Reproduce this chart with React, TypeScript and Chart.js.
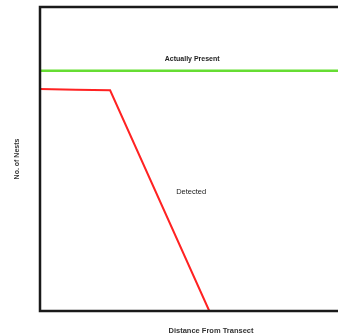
import React, { useEffect, useRef } from "react";
import { Chart, registerables } from "chart.js";

Chart.register(...registerables);

// Data
const distance: number[] = [0, 1.05, 2.05, 4.95];
const detected: number[] = [73.0, 72.8, 72.6, 0];
const presentX: number[] = [0, 10];
const present: number[] = [79, 79];

const seriesLabels: string[] = ["Actually Present", "Detected"];
const labelX: number[] = [4.45, 4.42];
const labelY: number[] = [82.9, 39.2];
const labelBold: boolean[] = [true, false];

const xTitle = "Distance From Transect";
const yTitle = "No. of Nests";

const FONT = "'Liberation Sans', Arial, sans-serif";

const framePlugin = {
  id: "frame",
  afterDatasetsDraw(chart: any) {
    const { ctx, chartArea } = chart;
    ctx.save();
    ctx.strokeStyle = "#1a1a1a";
    ctx.lineWidth = 2.5;
    ctx.strokeRect(chartArea.left, chartArea.top, chartArea.right - chartArea.left, chartArea.bottom - chartArea.top);
    const xs = chart.scales.x;
    const ys = chart.scales.y;
    ctx.fillStyle = "#222";
    ctx.textAlign = "center";
    ctx.textBaseline = "middle";
    seriesLabels.forEach((t, i) => {
      ctx.font = `${labelBold[i] ? "bold 7px" : "7.5px"} ${FONT}`;
      ctx.fillText(t, xs.getPixelForValue(labelX[i]), ys.getPixelForValue(labelY[i]));
    });
    ctx.restore();
  },
};

export default function App() {
  const ref = useRef<HTMLCanvasElement | null>(null);
  useEffect(() => {
    if (!ref.current) return;
    const chart = new Chart(ref.current, {
      type: "line",
      data: {
        datasets: [
          {
            label: seriesLabels[0],
            data: presentX.map((x, i) => ({ x, y: present[i] })),
            borderColor: "#66dd33",
            borderWidth: 2.5,
            pointRadius: 0,
            tension: 0,
          },
          {
            label: seriesLabels[1],
            data: distance.map((x, i) => ({ x, y: detected[i] })),
            borderColor: "#ff2222",
            borderWidth: 2,
            pointRadius: 0,
            tension: 0,
          },
        ],
      },
      options: {
        responsive: false,
        animation: false,
        layout: { padding: { top: 7, right: 0, left: 0, bottom: 0 } },
        plugins: { legend: { display: false }, tooltip: { enabled: false } },
        scales: {
          x: {
            type: "linear",
            min: 0,
            max: 10,
            grid: { display: false, drawTicks: false },
            border: { display: false },
            ticks: { display: false },
            title: {
              display: true,
              text: xTitle,
              color: "#333",
              font: { family: FONT, size: 7.5, weight: "bold" },
              padding: { top: 0, bottom: 0 },
            },
            afterFit(scale: any) {
              scale.height = 24;
            },
          },
          y: {
            type: "linear",
            min: 0,
            max: 100,
            grid: { display: false, drawTicks: false },
            border: { display: false },
            ticks: { display: false },
            title: {
              display: true,
              text: yTitle,
              color: "#333",
              font: { family: FONT, size: 7, weight: "bold" },
              padding: { top: 13, bottom: 0 },
            },
            afterFit(scale: any) {
              scale.width = 40;
            },
          },
        },
      },
      plugins: [framePlugin],
    });
    return () => chart.destroy();
  }, []);
  return (
    <div style={{ position: "fixed", left: 0, top: 0, width: 338, height: 335, overflow: "hidden", background: "#fff" }}>
      <canvas ref={ref} width={382} height={335} style={{ display: "block" }} />
    </div>
  );
}
